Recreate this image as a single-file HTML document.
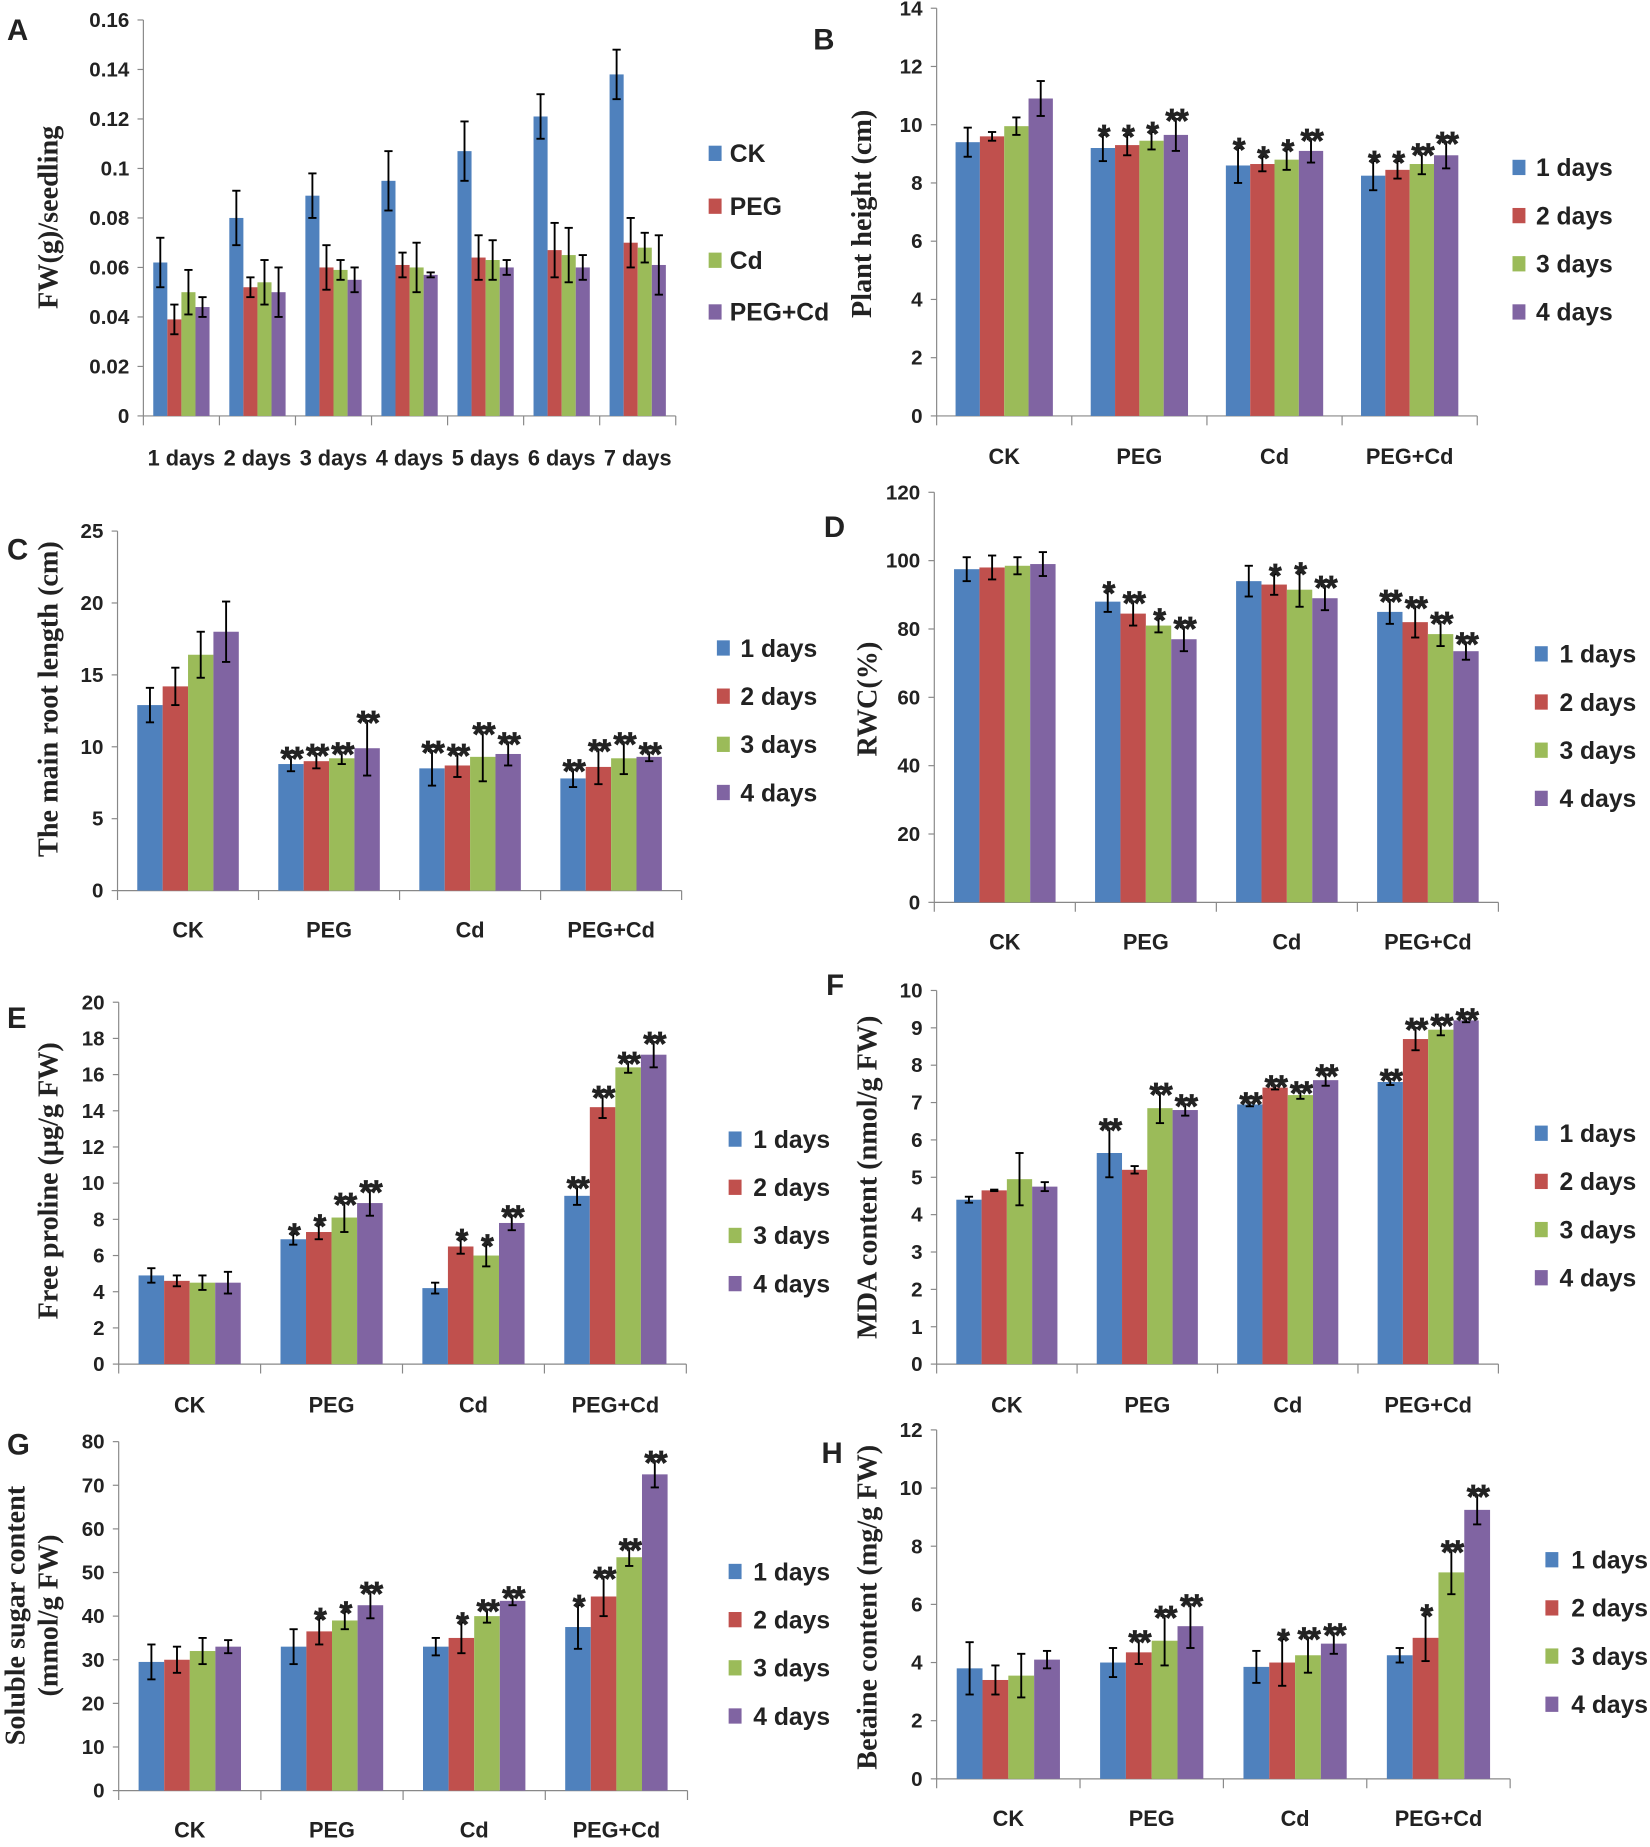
<!DOCTYPE html>
<html><head><meta charset="utf-8"><style>
html,body{margin:0;padding:0;background:#fff;}
svg{display:block}
.t{font-family:"Liberation Sans Narrow","Liberation Sans",sans-serif;font-weight:bold;fill:#222}
.s{font-family:"Liberation Serif",serif;font-weight:bold;fill:#222}
</style></head><body>
<svg id="c" width="1650" height="1847" viewBox="0 0 1404 1572" preserveAspectRatio="none" xmlns="http://www.w3.org/2000/svg">
<text class="t" x="6" y="34" font-size="25">A</text>
<text class="t" x="692" y="42" font-size="25">B</text>
<text class="t" x="6" y="476" font-size="25">C</text>
<text class="t" x="701" y="457" font-size="25">D</text>
<text class="t" x="6" y="875" font-size="25">E</text>
<text class="t" x="703" y="847" font-size="25">F</text>
<text class="t" x="6" y="1238" font-size="25">G</text>
<text class="t" x="699" y="1245" font-size="25">H</text>
<text class="s" font-size="24" text-anchor="middle" transform="translate(49,185) rotate(-90)">FW(g)/seedling</text>
<text class="s" font-size="24" text-anchor="middle" transform="translate(741,182) rotate(-90)">Plant height (cm)</text>
<text class="s" font-size="24" text-anchor="middle" transform="translate(49,595) rotate(-90)">The main root length (cm)</text>
<text class="s" font-size="24" text-anchor="middle" transform="translate(746,595) rotate(-90)">RWC(%)</text>
<text class="s" font-size="24" text-anchor="middle" transform="translate(49,1005) rotate(-90)">Free proline (μg/g FW)</text>
<text class="s" font-size="24" text-anchor="middle" transform="translate(746,1002) rotate(-90)">MDA content (nmol/g FW)</text>
<text class="s" font-size="24" text-anchor="middle" transform="translate(21,1375) rotate(-90)">Soluble sugar content</text>
<text class="s" font-size="24" text-anchor="middle" transform="translate(49,1375) rotate(-90)">(mmol/g FW)</text>
<text class="s" font-size="24" text-anchor="middle" transform="translate(746,1368) rotate(-90)">Betaine content (mg/g FW)</text>
</svg>
<script>
var svg=document.getElementById('c'),NS='http://www.w3.org/2000/svg';
var COL=['#4f81bd','#c0504d','#9bbb59','#8064a2'];
function el(n,a,txt){var e=document.createElementNS(NS,n);for(var k in a)e.setAttribute(k,a[k]);if(txt!=null)e.textContent=txt;svg.appendChild(e);return e;}
function panel(p){
  var x0=p.x0,x1=p.x1,yt=p.yt,yb=p.yb,max=p.max;
  function Y(v){return yb-(v/max)*(yb-yt);}
  el('line',{x1:x0,y1:yt,x2:x0,y2:yb,stroke:'#888','stroke-width':1});
  el('line',{x1:x0,y1:yb,x2:x1,y2:yb,stroke:'#888','stroke-width':1});
  for(var v=0;v<=max+1e-9;v+=p.step){
    var y=Y(v);
    el('line',{x1:x0-5,y1:y,x2:x0,y2:y,stroke:'#888','stroke-width':1});
    el('text',{'class':'t',x:x0-12,y:y+6,'font-size':17.5,'text-anchor':'end'},p.fmt?p.fmt(v):String(Math.round(v)));
  }
  var n=p.cats.length,g=(x1-x0)/n;
  for(var i=0;i<=n;i++){var x=x0+g*i;el('line',{x1:x,y1:yb,x2:x,y2:yb+8,stroke:'#888','stroke-width':1});}
  var bw=g*p.bf,off=(g-4*bw)/2;
  for(var i=0;i<n;i++){
    var gx=x0+g*i+off;
    el('text',{'class':'t',x:x0+g*i+g/2,y:p.ly,'font-size':p.lfs||18.5,'text-anchor':'middle'},p.cats[i]);
    for(var j=0;j<4;j++){
      var d=p.d[i][j],v=d[0],e=d[1],x=gx+bw*j;
      el('rect',{x:x,y:Y(v),width:bw,height:yb-Y(v),fill:COL[j]});
      var cx=x+bw/2,t=Y(v+e),b=Y(v-e);
      el('line',{x1:cx,y1:t,x2:cx,y2:b,stroke:'#000','stroke-width':1.6});
      el('line',{x1:cx-3.5,y1:t,x2:cx+3.5,y2:t,stroke:'#000','stroke-width':1.6});
      el('line',{x1:cx-3.5,y1:b,x2:cx+3.5,y2:b,stroke:'#000','stroke-width':1.6});
      if(d[2])el('text',{'class':'t',x:cx,y:t+11,'font-size':28,'text-anchor':'middle',stroke:'#222','stroke-width':0.6,'letter-spacing':'-2'},d[2]);
    }
  }
  for(var k=0;k<4;k++){
    var ly=p.leg[2][k];
    el('rect',{x:p.leg[0],y:ly-13,width:11,height:13,fill:COL[k]});
    el('text',{'class':'t',x:p.leg[1],y:ly+1,'font-size':21},p.labs[k]);
  }
}
var G4=['CK','PEG','Cd','PEG+Cd'],D4=['1 days','2 days','3 days','4 days'];
panel({x0:122,x1:575,yt:17,yb:354,max:0.16,step:0.02,fmt:function(v){var r=Math.round(v*100)/100;return r==0?'0':String(r);},
 cats:['1 days','2 days','3 days','4 days','5 days','6 days','7 days'],ly:396,bf:0.185,
 leg:[603,621,[137,182,228,272]],labs:['CK','PEG','Cd','PEG+Cd'],
 d:[[[.062,.010],[.039,.006],[.050,.009],[.044,.004]],[[.080,.011],[.052,.004],[.054,.009],[.050,.010]],
 [[.089,.009],[.060,.009],[.059,.004],[.055,.005]],[[.095,.012],[.061,.005],[.060,.010],[.057,.001]],
 [[.107,.012],[.064,.009],[.063,.008],[.060,.003]],[[.121,.009],[.067,.011],[.065,.011],[.060,.005]],
 [[.138,.010],[.070,.010],[.068,.006],[.061,.012]]]});
panel({x0:797,x1:1257,yt:7,yb:354,max:14,step:2,cats:G4,ly:395,bf:0.18,
 leg:[1287,1307,[149,190,231,272]],labs:D4,
 d:[[[9.4,.5],[9.6,.15],[9.95,.3],[10.9,.6]],[[9.2,.45,'*'],[9.3,.35,'*'],[9.45,.3,'*'],[9.65,.55,'**']],
 [[8.6,.6,'*'],[8.65,.25,'*'],[8.8,.35,'*'],[9.1,.4,'**']],[[8.25,.5,'*'],[8.45,.3,'*'],[8.65,.35,'**'],[8.95,.45,'**']]]});
panel({x0:100,x1:580,yt:452,yb:758,max:25,step:5,cats:G4,ly:798,bf:0.18,
 leg:[610,630,[558,599,640,681]],labs:D4,
 d:[[[12.9,1.2],[14.2,1.3],[16.4,1.6],[18.0,2.1]],[[8.8,.5,'**'],[9.0,.5,'**'],[9.2,.4,'**'],[9.9,1.9,'**']],
 [[8.5,1.2,'**'],[8.7,.8,'**'],[9.3,1.7,'**'],[9.5,.8,'**']],[[7.8,.6,'**'],[8.6,1.2,'**'],[9.2,1.1,'**'],[9.3,.3,'**']]]});
panel({x0:795,x1:1275,yt:419,yb:768,max:120,step:20,cats:G4,ly:808,bf:0.18,
 leg:[1306,1327,[563,604,645,686]],labs:D4,
 d:[[[97.5,3.5],[98,3.5],[98.5,2.5],[99,3.5]],[[88,3,'*'],[84.5,3.5,'**'],[81,2,'*'],[77,3.5,'**']],
 [[94,4.5],[93,3,'*'],[91.5,5,'*'],[89,3.5,'**']],[[85,3.5,'**'],[82,4.5,'**'],[78.5,3.5,'**'],[73.5,2.5,'**']]]});
panel({x0:101,x1:584,yt:853,yb:1161,max:20,step:2,cats:G4,ly:1202,bf:0.18,
 leg:[620,641,[976,1017,1058,1099]],labs:D4,
 d:[[[4.9,.4],[4.6,.3],[4.5,.4],[4.5,.6]],[[6.9,.3,'*'],[7.3,.4,'*'],[8.1,.8,'**'],[8.9,.7,'**']],
 [[4.2,.3],[6.5,.4,'*'],[6.0,.6,'*'],[7.8,.4,'**']],[[9.3,.5,'**'],[14.2,.6,'**'],[16.4,.3,'**'],[17.1,.7,'**']]]});
panel({x0:797,x1:1275,yt:843,yb:1161,max:10,step:1,cats:G4,ly:1202,bf:0.18,
 leg:[1306,1327,[971,1012,1053,1094]],labs:D4,
 d:[[[4.4,.08],[4.65,.02],[4.95,.7],[4.75,.12]],[[5.65,.65,'**'],[5.2,.1],[6.85,.4,'**'],[6.8,.15,'**']],
 [[6.95,.05,'**'],[7.4,.05,'**'],[7.2,.1,'**'],[7.6,.15,'**']],[[7.55,.08,'**'],[8.7,.3,'**'],[8.95,.15,'**'],[9.2,.05,'**']]]});
panel({x0:101,x1:585,yt:1227,yb:1524,max:80,step:10,cats:G4,ly:1564,bf:0.18,
 leg:[620,641,[1344,1385,1426,1467]],labs:D4,
 d:[[[29.5,4],[30,3],[32,3],[33,1.5]],[[33,4],[36.5,3,'*'],[39,2,'*'],[42.5,3,'**']],
 [[33,2],[35,3.5,'*'],[40,1.5,'**'],[43.5,1,'**']],[[37.5,5,'*'],[44.5,4.5,'**'],[53.5,2,'**'],[72.5,3,'**']]]});
panel({x0:797,x1:1285,yt:1217,yb:1514,max:12,step:2,cats:G4,ly:1554,bf:0.18,
 leg:[1315,1337,[1334,1375,1416,1457]],labs:D4,
 d:[[[3.8,.9],[3.4,.5],[3.55,.75],[4.1,.3]],[[4.0,.5],[4.35,.4,'**'],[4.75,.85,'**'],[5.25,.75,'**']],
 [[3.85,.55],[4.0,.8,'*'],[4.25,.6,'**'],[4.65,.35,'**']],[[4.25,.25],[4.85,.8,'*'],[7.1,.75,'**'],[9.25,.5,'**']]]});
</script>
</body></html>
